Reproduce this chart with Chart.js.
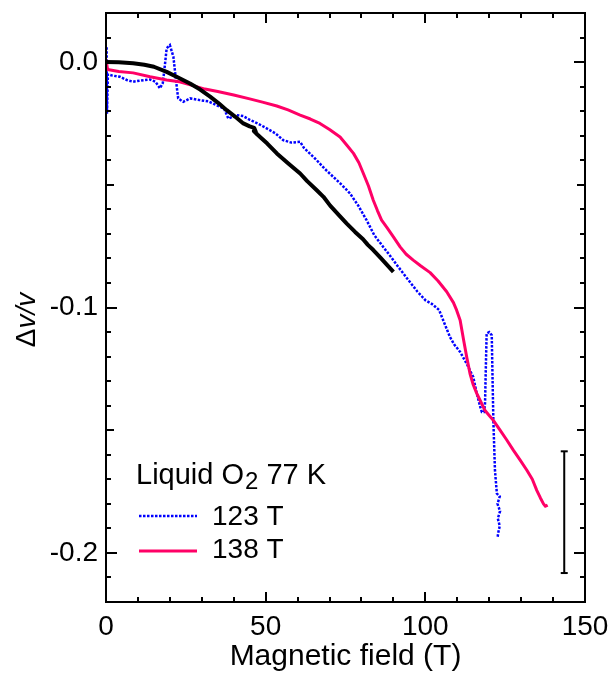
<!DOCTYPE html>
<html>
<head>
<meta charset="utf-8">
<script src="https://cdn.jsdelivr.net/npm/chart.js@4"></script>
<style>
  html, body { margin: 0; padding: 0; background: #fff; }
</style>
</head>
<body>
<canvas id="chart" width="614" height="692"></canvas>
<script>
// field in tesla, relative sound velocity change dv/v
const blackField = [0, 4, 8.5, 12, 15, 19, 23.2, 26.3, 29.5, 32.6, 35.2, 37.8, 40.5, 43, 45, 46.4, 46.9, 46.3, 47.4, 48.5, 50.5, 53.5, 57, 60.8, 63, 66, 68.1, 70.2, 73, 75.4, 78, 80.5, 82, 83.7, 86, 88, 90];
const blackDv = [0, -0.0001, -0.0005, -0.0011, -0.0019, -0.004, -0.0067, -0.0087, -0.0112, -0.0141, -0.0167, -0.0196, -0.0223, -0.025, -0.0262, -0.0268, -0.0284, -0.0281, -0.0295, -0.0308, -0.0332, -0.0372, -0.0412, -0.0454, -0.0485, -0.0522, -0.0549, -0.0585, -0.0625, -0.0658, -0.0692, -0.0722, -0.0745, -0.0766, -0.0798, -0.0826, -0.0855];

const blueField = [0.2, 0.3, 0.6, 2, 4.4, 6.5, 8.5, 11, 13.8, 15.5, 16.9, 17.8, 18.5, 19, 20, 21.1, 21.9, 22.6, 24.2, 26.3, 29.4, 32, 35.7, 37, 38.3, 40.9, 43, 45.1, 47.5, 50.3, 53, 55.5, 58, 60.8, 62, 64, 66, 68.5, 71.2, 73.8, 76.4, 79, 81.6, 84, 86.8, 89, 91.5, 94.5, 97.5, 100, 102, 104.3, 106, 107.7, 109, 110.9, 112.9, 115, 116.1, 117.2, 117.7, 118.4, 118.7, 119, 119.2, 120, 120.8, 121, 121.3, 121.8, 122.4, 123.3, 122.6, 123.4, 122.7, 123.3, 122.8, 122.6];
const blueDv = [0.006, -0.021, -0.005, -0.0055, -0.006, -0.0073, -0.008, -0.0075, -0.0071, -0.008, -0.0107, -0.0085, -0.0005, 0.0056, 0.0069, 0.0022, -0.0073, -0.0148, -0.0162, -0.0148, -0.0155, -0.016, -0.0182, -0.019, -0.023, -0.0216, -0.022, -0.0236, -0.025, -0.027, -0.029, -0.0318, -0.0328, -0.0325, -0.035, -0.0375, -0.04, -0.0435, -0.0468, -0.05, -0.0535, -0.0585, -0.0644, -0.0705, -0.0753, -0.079, -0.0834, -0.0885, -0.0935, -0.097, -0.0985, -0.101, -0.1065, -0.112, -0.115, -0.1181, -0.1228, -0.1283, -0.135, -0.1405, -0.1426, -0.1426, -0.139, -0.1215, -0.1106, -0.11, -0.1113, -0.1256, -0.146, -0.1663, -0.1758, -0.177, -0.18, -0.183, -0.186, -0.189, -0.192, -0.194];

const pinkField = [0, 0.5, 4, 8.5, 13.8, 19, 23, 27, 31, 35, 40, 45, 49, 53.5, 57, 60.8, 64, 67, 70, 73.3, 75.5, 77.5, 79.2, 80.6, 82.2, 83.7, 85, 86.3, 88, 90, 92.1, 94, 96.2, 98.5, 101.5, 104, 106.7, 108.8, 109.8, 110.9, 112, 113, 114, 115, 116.1, 117.4, 118.7, 120, 121.3, 123.4, 125.5, 127.6, 129.7, 131.8, 133.5, 134.9, 136, 137, 137.6, 138.3];
const pinkDv = [0.001, -0.003, -0.0038, -0.0044, -0.006, -0.0073, -0.008, -0.0095, -0.011, -0.012, -0.0134, -0.015, -0.0163, -0.0179, -0.0195, -0.0216, -0.0232, -0.025, -0.0275, -0.0305, -0.034, -0.0372, -0.041, -0.0454, -0.0505, -0.0563, -0.0605, -0.0644, -0.0675, -0.0712, -0.0753, -0.0783, -0.0807, -0.083, -0.0858, -0.0892, -0.0936, -0.098, -0.1011, -0.1052, -0.1133, -0.1205, -0.127, -0.1315, -0.135, -0.1385, -0.142, -0.144, -0.146, -0.15, -0.154, -0.1582, -0.1622, -0.1663, -0.17, -0.1745, -0.1775, -0.18, -0.181, -0.1805];

const errorBarField = [143.5, 143.5];
const errorBarDv = [-0.1586, -0.2082];

const seriesLabels = ['123 T', '138 T'];
const legendTitle = ['Liquid O', '2', ' 77 K'];
const xTitle = 'Magnetic field (T)';
const xTicks = [0, 50, 100, 150];
const yTicks = [0, -0.1, -0.2];

const FONT = '"Liberation Sans", Arial, sans-serif';

function pairs(xs, ys) {
    return xs.map((x, i) => ({ x: x, y: ys[i] }));
}

const frameTicks = {
    id: 'frameTicks',
    afterDatasetsDraw(chart) {
        const { ctx, chartArea: a, scales: { x, y } } = chart;
        ctx.save();
        ctx.strokeStyle = '#000';
        ctx.lineWidth = 2;
        ctx.strokeRect(a.left, a.top, a.right - a.left, a.bottom - a.top);
        ctx.beginPath();
        for (let v = 0; v <= 150; v += 10) {
            const px = Math.round(x.getPixelForValue(v));
            const len = v % 50 === 0 ? 10 : 5;
            ctx.moveTo(px, a.bottom); ctx.lineTo(px, a.bottom - len);
            ctx.moveTo(px, a.top); ctx.lineTo(px, a.top + len);
        }
        for (let i = -22; i <= 2; i++) {
            const py = Math.round(y.getPixelForValue(i / 100));
            const len = i % 10 === 0 ? 11 : (i % 5 === 0 ? 8 : 5);
            ctx.moveTo(a.left, py); ctx.lineTo(a.left + len, py);
            ctx.moveTo(a.right, py); ctx.lineTo(a.right - len, py);
        }
        ctx.stroke();
        ctx.restore();
    },
    afterDraw(chart) {
        const { ctx, chartArea: a } = chart;
        ctx.save();
        ctx.fillStyle = '#000';
        ctx.textBaseline = 'alphabetic';

        // x title
        ctx.font = '30px ' + FONT;
        ctx.textAlign = 'center';
        ctx.fillText(xTitle, (a.left + a.right) / 2, 665);
        ctx.textAlign = 'left';

        // y title: Δv/v with italic v
        ctx.translate(25, 320);
        ctx.rotate(-Math.PI / 2);
        ctx.font = '28px ' + FONT;
        const wD = ctx.measureText('\u0394').width;
        ctx.font = 'italic 28px ' + FONT;
        const wV = ctx.measureText('v/v').width;
        const sx = -(wD + wV) / 2;
        ctx.font = '28px ' + FONT;
        ctx.fillText('\u0394', sx, 10);
        ctx.font = 'italic 28px ' + FONT;
        ctx.fillText('v/v', sx + wD, 10);
        ctx.setTransform(1, 0, 0, 1, 0, 0);

        // legend inside plot
        const lx = a.left + 30;
        ctx.font = '29px ' + FONT;
        ctx.fillText(legendTitle[0], lx, 484);
        let tx = lx + ctx.measureText(legendTitle[0]).width + 1;
        ctx.font = '24px ' + FONT;
        ctx.fillText(legendTitle[1], tx, 489);
        tx += ctx.measureText(legendTitle[1]).width;
        ctx.font = '29px ' + FONT;
        ctx.fillText(legendTitle[2], tx, 484);

        ctx.font = '28px ' + FONT;
        const items = [chart.data.datasets[2], chart.data.datasets[1]];
        const rows = [[516, 525], [551, 558]];
        items.forEach((ds, i) => {
            ctx.save();
            ctx.strokeStyle = ds.borderColor;
            ctx.lineWidth = ds.borderWidth;
            ctx.setLineDash(ds.borderDash || []);
            ctx.beginPath();
            ctx.moveTo(a.left + 33, rows[i][0]);
            ctx.lineTo(a.left + 91, rows[i][0]);
            ctx.stroke();
            ctx.restore();
            ctx.fillText(ds.label, a.left + 106, rows[i][1]);
        });
        ctx.restore();
    }
};

new Chart(document.getElementById('chart'), {
    type: 'scatter',
    data: {
        datasets: [
            {
                label: 'black',
                data: pairs(blackField, blackDv),
                showLine: true,
                borderColor: '#000000',
                borderWidth: 4,
                pointRadius: 0,
                tension: 0,
                borderJoinStyle: 'round'
            },
            {
                label: seriesLabels[1],
                data: pairs(pinkField, pinkDv),
                showLine: true,
                borderColor: '#ff0066',
                borderWidth: 3,
                pointRadius: 0,
                tension: 0,
                borderJoinStyle: 'round'
            },
            {
                label: seriesLabels[0],
                data: pairs(blueField, blueDv),
                showLine: true,
                borderColor: '#0000ff',
                borderWidth: 2.5,
                borderDash: [2.5, 1.5],
                pointRadius: 0,
                tension: 0
            },
            {
                label: 'error',
                data: pairs(errorBarField, errorBarDv),
                showLine: true,
                borderColor: '#000000',
                borderWidth: 2,
                pointStyle: 'line',
                pointRadius: 3.5,
                pointBorderWidth: 2,
                pointBorderColor: '#000000',
                pointHoverRadius: 3.5
            }
        ]
    },
    options: {
        responsive: false,
        animation: false,
        events: [],
        layout: { padding: { top: 13, right: 29, left: 0, bottom: 0 } },
        plugins: {
            legend: { display: false },
            tooltip: { enabled: false }
        },
        scales: {
            x: {
                type: 'linear',
                min: 0,
                max: 150,
                afterFit(scale) {
                    scale.height = 90;
                    scale.paddingLeft = 0;
                    scale.paddingRight = 0;
                },
                afterBuildTicks(scale) { scale.ticks = xTicks.map(v => ({ value: v })); },
                grid: { display: false, drawTicks: false },
                border: { display: false },
                ticks: {
                    padding: 8,
                    maxRotation: 0,
                    autoSkip: false,
                    color: '#000',
                    font: { family: FONT, size: 28 }
                }
            },
            y: {
                type: 'linear',
                min: -0.22,
                max: 0.02,
                afterFit(scale) {
                    scale.width = 106;
                    scale.paddingTop = 0;
                    scale.paddingBottom = 0;
                },
                afterBuildTicks(scale) { scale.ticks = yTicks.map(v => ({ value: v })); },
                grid: { display: false, drawTicks: false },
                border: { display: false },
                ticks: {
                    padding: 8,
                    autoSkip: false,
                    color: '#000',
                    font: { family: FONT, size: 28 },
                    callback: v => v.toFixed(1)
                }
            }
        }
    },
    plugins: [frameTicks]
});
</script>
</body>
</html>
